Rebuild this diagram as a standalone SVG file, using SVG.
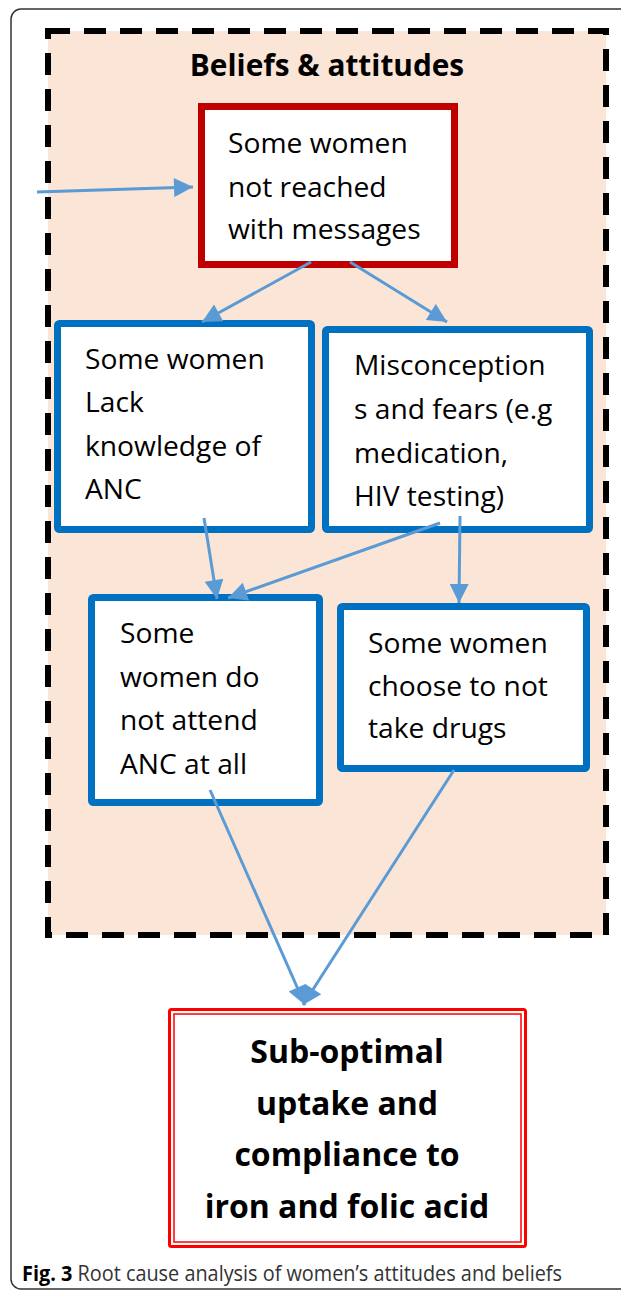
<svg xmlns="http://www.w3.org/2000/svg" width="621" height="1290" viewBox="0 0 621 1290">
<style>
.frame{fill:none;stroke:#333;stroke-width:1.5}
.group{fill:#FBE5D6;stroke:#000;stroke-width:6;stroke-dasharray:22 14}
.title{font-family:"Open Sans","Liberation Sans",sans-serif;font-weight:bold;font-size:29.8px;fill:#000;text-anchor:middle}
.red{fill:#fff;stroke:#C00000;stroke-width:7}
.blue{fill:#fff;stroke:#0070C0;stroke-width:7}
.t{font-family:"Open Sans","Liberation Sans",sans-serif;font-size:28.2px;fill:#000}
.outer{fill:#fff;stroke:#FF0000;stroke-width:3}
.inner{fill:none;stroke:#FF0000;stroke-width:1.5}
.tb{font-family:"Open Sans","Liberation Sans",sans-serif;font-weight:bold;font-size:32px;fill:#000;text-anchor:middle}
.conn line{stroke:#5B9BD5;stroke-width:3;marker-end:url(#ah)}
.cap{font-family:"Open Sans","Liberation Sans",sans-serif;font-size:21.5px;fill:#333}
</style>
<defs>
<marker id="ah" viewBox="0 0 10 10" refX="10" refY="5" markerWidth="21" markerHeight="19" markerUnits="userSpaceOnUse" orient="auto">
<path d="M0,0 L10,5 L0,10 z" fill="#5B9BD5"/>
</marker>
</defs>
<rect class="frame" x="11" y="9" width="640" height="1280" rx="10"/>
<g id="beliefs-group">
<rect class="group" x="48" y="31" width="558" height="904"/>
<text class="title" x="327" y="76">Beliefs &amp; attitudes</text>
</g>
<g id="n-not-reached">
<rect class="red" x="201.5" y="106.5" width="253" height="158"/>
<text class="t" x="228" y="153">Some women</text>
<text class="t" x="228" y="197">not reached</text>
<text class="t" x="228" y="239">with messages</text>
</g>
<g id="n-lack-knowledge">
<rect class="blue" x="57.5" y="323.5" width="254" height="206" rx="2"/>
<text class="t" x="85" y="369">Some women</text>
<text class="t" x="85" y="412">Lack</text>
<text class="t" x="85" y="456">knowledge of</text>
<text class="t" x="85" y="499">ANC</text>
</g>
<g id="n-misconceptions">
<rect class="blue" x="325.5" y="329.5" width="264" height="200" rx="2"/>
<text class="t" x="354" y="375">Misconception</text>
<text class="t" x="354" y="419">s and fears (e.g</text>
<text class="t" x="354" y="463">medication,</text>
<text class="t" x="354" y="506">HIV testing)</text>
</g>
<g id="n-not-attend">
<rect class="blue" x="91.5" y="597.5" width="228" height="205" rx="2"/>
<text class="t" x="120" y="643">Some</text>
<text class="t" x="120" y="687">women do</text>
<text class="t" x="120" y="730">not attend</text>
<text class="t" x="120" y="774">ANC at all</text>
</g>
<g id="n-not-take-drugs">
<rect class="blue" x="340.5" y="606.5" width="246" height="162" rx="2"/>
<text class="t" x="368" y="653">Some women</text>
<text class="t" x="368" y="696">choose to not</text>
<text class="t" x="368" y="738">take drugs</text>
</g>
<g id="n-outcome">
<rect class="outer" x="169.5" y="1009.5" width="356" height="237" rx="2"/>
<rect class="inner" x="174" y="1014" width="347" height="228"/>
<text class="tb" x="347" y="1063">Sub-optimal</text>
<text class="tb" x="347" y="1115">uptake and</text>
<text class="tb" x="347" y="1166">compliance to</text>
<text class="tb" x="347" y="1218">iron and folic acid</text>
</g>
<g id="connectors" class="conn">
<line x1="37" y1="192" x2="193" y2="187"/>
<line x1="311" y1="262" x2="202" y2="322"/>
<line x1="350" y1="262" x2="447" y2="322"/>
<line x1="204" y1="518" x2="217" y2="599"/>
<line x1="440" y1="523" x2="228" y2="598"/>
<line x1="460" y1="516" x2="459" y2="603"/>
<line x1="210" y1="790" x2="305" y2="1005"/>
<line x1="454" y1="770" x2="303" y2="1005"/>
</g>
<text class="cap" x="22" y="1281" textLength="540" lengthAdjust="spacingAndGlyphs"><tspan font-weight="bold" fill="#000">Fig. 3</tspan> Root cause analysis of women’s attitudes and beliefs</text>
</svg>
